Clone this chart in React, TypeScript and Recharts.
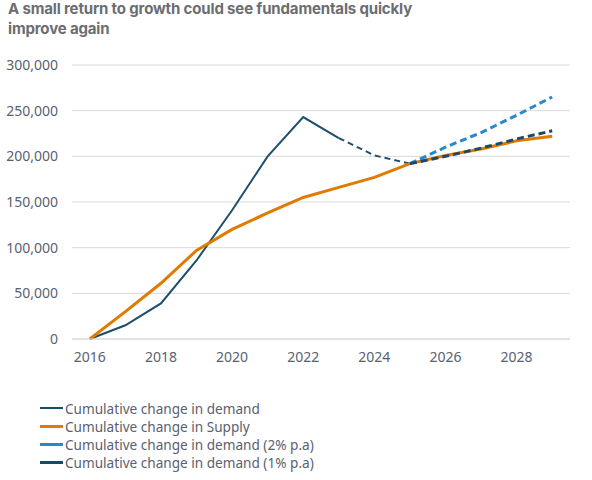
import React from 'react';
import { LineChart, Line, XAxis, YAxis, CartesianGrid } from 'recharts';

// Years on the x axis
const years = [2016, 2017, 2018, 2019, 2020, 2021, 2022, 2023, 2024, 2025, 2026, 2027, 2028, 2029];

// Cumulative change in demand (actual, solid) and its estimate (dashed)
const demandActual = [0, 15000, 39000, 86000, 141000, 200000, 243000, 220000, null, null, null, null, null, null];
const demandEst = [null, null, null, null, null, null, null, 220000, 201000, 192000, null, null, null, null];

// Cumulative change in supply
const supply = [0, 30000, 61000, 97000, 120000, 138000, 155000, 166000, 177000, 192000, 201000, 208000, 217000, 222000];

// Demand scenarios
const growth2 = [null, null, null, null, null, null, null, null, null, 192000, 210000, 226000, 245000, 265000];
const growth1 = [null, null, null, null, null, null, null, null, null, 192000, 200000, 209000, 219000, 228000];

const yTicks = [0, 50000, 100000, 150000, 200000, 250000, 300000];

const legendItems = [
  { label: 'Cumulative change in demand', color: '#1d4e6f', width: 2 },
  { label: 'Cumulative change in Supply', color: '#e07a00', width: 3 },
  { label: 'Cumulative change in demand (2% p.a)', color: '#2b87cc', width: 3 },
  { label: 'Cumulative change in demand (1% p.a)', color: '#1a4a6b', width: 3 },
];

const chartData = years.map((year, i) => ({
  year,
  demand: demandActual[i],
  demandEst: demandEst[i],
  supply: supply[i],
  growth2: growth2[i],
  growth1: growth1[i],
}));

const textGrey = '#5a6170';
const tickStyle = { fontFamily: 'Noto Sans', fontSize: 14, fill: textGrey };

export default function App() {
  return (
    <div style={{ position: 'absolute', left: 0, top: 0, width: 592, height: 480, background: '#fff', overflow: 'hidden' }}>
      <div
        style={{
          position: 'absolute',
          left: 8,
          top: -1,
          fontFamily: 'Inter',
          fontWeight: 700,
          fontSize: 15,
          lineHeight: '20px',
          letterSpacing: -0.15,
          color: '#6b6d71',
        }}
      >
        A small return to growth could see fundamentals quickly
        <br />
        improve again
      </div>
      <div style={{ position: 'absolute', left: 0, top: 0 }}>
        <LineChart width={592} height={380} data={chartData} margin={{ top: 65, right: 22, left: 0, bottom: 11 }}>
          <CartesianGrid horizontal vertical={false} stroke="#d9d9d9" />
          <XAxis
            dataKey="year"
            type="category"
            scale="point"
            padding={{ left: 17.8, right: 17.8 }}
            interval={1}
            tickLine={false}
            tickSize={0}
            tickMargin={13}
            axisLine={{ stroke: '#d9d9d9' }}
            tick={tickStyle}
            height={30}
          />
          <YAxis
            width={72}
            domain={[0, 300000]}
            ticks={yTicks}
            axisLine={false}
            tickLine={false}
            tickSize={0}
            tickMargin={14}
            tick={tickStyle}
            tickFormatter={(v: number) => v.toLocaleString('en-US')}
          />
          <Line dataKey="demand" stroke="#1d4e6f" strokeWidth={2} dot={false} isAnimationActive={false} />
          <Line dataKey="demandEst" stroke="#1d4e6f" strokeWidth={2} strokeDasharray="6 4" dot={false} isAnimationActive={false} legendType="none" />
          <Line dataKey="supply" stroke="#e07a00" strokeWidth={3} dot={false} isAnimationActive={false} />
          <Line dataKey="growth2" stroke="#2b87cc" strokeWidth={3} strokeDasharray="7 4" dot={false} isAnimationActive={false} />
          <Line dataKey="growth1" stroke="#1a4a6b" strokeWidth={3} strokeDasharray="7 4" dot={false} isAnimationActive={false} />
        </LineChart>
      </div>
      <div style={{ position: 'absolute', left: 40, top: 399 }}>
        {legendItems.map((item) => (
          <div key={item.label} style={{ display: 'flex', alignItems: 'center', height: 18 }}>
            <div style={{ width: 23, height: item.width, background: item.color, marginRight: 2 }} />
            <span style={{ fontFamily: 'Noto Sans', fontSize: 13.6, color: textGrey, whiteSpace: 'nowrap' }}>{item.label}</span>
          </div>
        ))}
      </div>
    </div>
  );
}
